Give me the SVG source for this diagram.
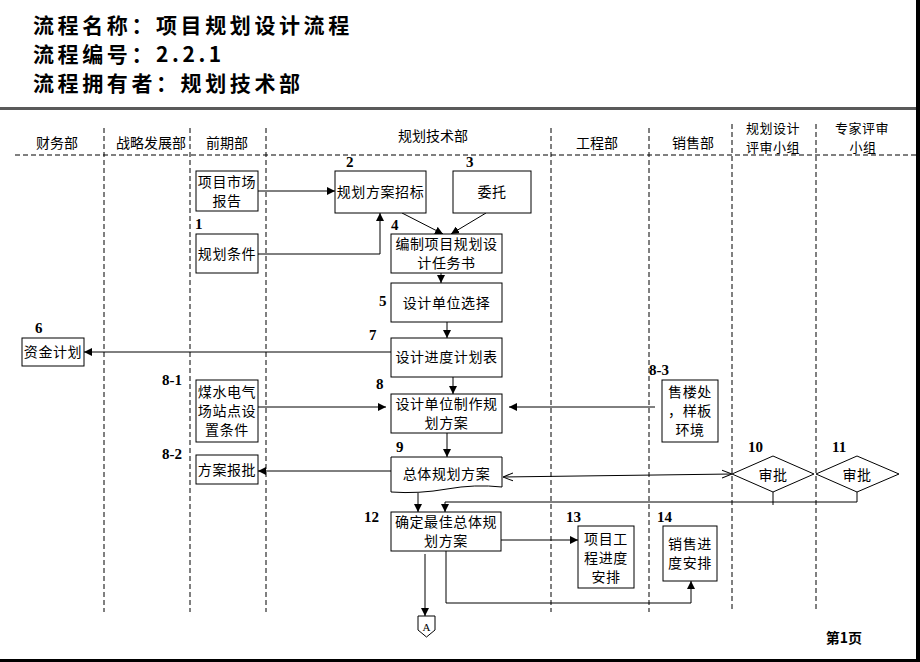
<svg xmlns="http://www.w3.org/2000/svg" width="920" height="662" viewBox="0 0 920 662">
<style>
.title{font-family:"Noto Sans CJK SC","Noto Sans",sans-serif;font-size:21px;font-weight:bold;letter-spacing:3.6px;fill:#000}
.lane{font-family:"Noto Sans CJK SC",sans-serif;font-size:14px;text-anchor:middle;fill:#000}
.lane2{font-family:"Noto Sans CJK SC",sans-serif;font-size:13px;letter-spacing:0.5px;text-anchor:middle;fill:#000}
.t{font-family:"Noto Sans CJK SC",sans-serif;font-size:14px;letter-spacing:0.6px;text-anchor:middle;fill:#000}
.num{font-family:"Liberation Serif",serif;font-size:15px;font-weight:bold;fill:#000}
.box{fill:#fff;stroke:#000;stroke-width:1}
.dash{stroke:#000;stroke-width:1;stroke-dasharray:5 3;fill:none}
.ln{stroke:#000;stroke-width:1;fill:none}
</style>
<defs>
<marker id="ah" viewBox="0 0 10 10" refX="10" refY="5" markerWidth="8" markerHeight="8" markerUnits="userSpaceOnUse" orient="auto">
<path d="M0,0 L10,5 L0,10 Z" fill="#000"/>
</marker>
<marker id="oh" viewBox="0 0 10 10" refX="10" refY="5" markerWidth="10" markerHeight="10" markerUnits="userSpaceOnUse" orient="auto-start-reverse">
<path d="M0,1 L10,5 L0,9" fill="none" stroke="#000" stroke-width="1"/>
</marker>
</defs>
<rect width="920" height="662" fill="#fff"/>
<g id="header">
<text class="title" x="33" y="33">流程名称：项目规划设计流程</text>
<text class="title" x="33" y="62">流程编号：2.2.1</text>
<text class="title" x="33" y="91">流程拥有者：规划技术部</text>
<rect x="0" y="107" width="916" height="3" fill="#5a5a5a"/>
<rect x="916" y="0" width="4" height="662" fill="#000"/>
<rect x="0" y="659" width="920" height="3" fill="#000"/>
<text x="844" y="643" style="font-family:'Noto Sans CJK SC',sans-serif;font-size:14px;font-weight:bold;text-anchor:middle">第1页</text>
</g>
<g id="lanes">
<line class="dash" x1="15" y1="155" x2="916" y2="155" stroke="#444"/>
<line class="dash" x1="104" y1="128" x2="104" y2="612"/>
<line class="dash" x1="190" y1="128" x2="190" y2="612"/>
<line class="dash" x1="266" y1="128" x2="266" y2="612"/>
<line class="dash" x1="551" y1="128" x2="551" y2="612"/>
<line class="dash" x1="649" y1="128" x2="649" y2="612"/>
<line class="dash" x1="732" y1="124" x2="732" y2="612"/>
<line class="dash" x1="816" y1="124" x2="816" y2="612"/>
<text class="lane" x="57" y="148">财务部</text>
<text class="lane" x="151" y="148">战略发展部</text>
<text class="lane" x="227" y="148">前期部</text>
<text class="lane" x="433" y="141">规划技术部</text>
<text class="lane" x="597" y="148">工程部</text>
<text class="lane" x="693" y="148">销售部</text>
<text class="lane2" x="773" y="133">规划设计</text>
<text class="lane2" x="773" y="152">评审小组</text>
<text class="lane2" x="862" y="133">专家评审</text>
<text class="lane2" x="863" y="152">小组</text>
</g>
<g id="connectors">
<line class="ln" x1="258" y1="191" x2="335" y2="191" marker-end="url(#ah)"/>
<polyline class="ln" points="258,254 380,254 380,213" marker-end="url(#ah)"/>
<line class="ln" x1="402" y1="213" x2="443" y2="234" marker-end="url(#ah)"/>
<line class="ln" x1="486" y1="213" x2="451" y2="234" marker-end="url(#ah)"/>
<line class="ln" x1="441" y1="273" x2="441" y2="283" marker-end="url(#ah)"/>
<line class="ln" x1="447" y1="322" x2="447" y2="338" marker-end="url(#ah)"/>
<line class="ln" x1="391" y1="352" x2="84" y2="352" marker-end="url(#ah)"/>
<line class="ln" x1="453" y1="377" x2="453" y2="394" marker-end="url(#ah)"/>
<line class="ln" x1="258" y1="407" x2="386" y2="407" marker-end="url(#ah)"/>
<line class="ln" x1="655" y1="407" x2="509" y2="407" marker-end="url(#ah)"/>
<line class="ln" x1="447" y1="433" x2="447" y2="457" marker-end="url(#ah)"/>
<line class="ln" x1="391" y1="471" x2="258" y2="471" marker-end="url(#ah)"/>
<line class="ln" x1="503" y1="477" x2="732" y2="474" marker-start="url(#oh)" marker-end="url(#oh)"/>
<line class="ln" x1="773" y1="492" x2="773" y2="505"/>
<polyline class="ln" points="857,492 857,502 445,502 445,512" marker-end="url(#ah)"/>
<line class="ln" x1="418" y1="493" x2="418" y2="512" marker-end="url(#ah)"/>
<line class="ln" x1="501" y1="540" x2="578" y2="540" marker-end="url(#ah)"/>
<line class="ln" x1="425" y1="554" x2="425" y2="616" marker-end="url(#ah)"/>
<polyline class="ln" points="446,551 446,603 691,603 691,581" marker-end="url(#ah)"/>
</g>
<g id="n_market">
<rect class="box" x="196" y="171" width="62" height="40"/>
<text class="t" x="227" y="187">项目市场</text>
<text class="t" x="227" y="206">报告</text>
</g>
<g id="n1">
<text class="num" x="195" y="229">1</text>
<rect class="box" x="196" y="234" width="62" height="39"/>
<text class="t" x="227" y="259">规划条件</text>
</g>
<g id="n2">
<text class="num" x="346" y="167">2</text>
<rect class="box" x="335" y="171" width="91" height="42"/>
<text class="t" x="380.5" y="197">规划方案招标</text>
</g>
<g id="n3">
<text class="num" x="466" y="167">3</text>
<rect class="box" x="453" y="171" width="78" height="42"/>
<text class="t" x="492" y="197">委托</text>
</g>
<g id="n4">
<text class="num" x="391" y="230">4</text>
<rect class="box" x="391" y="234" width="111" height="39"/>
<text class="t" x="446.5" y="249">编制项目规划设</text>
<text class="t" x="446.5" y="268">计任务书</text>
</g>
<g id="n5">
<text class="num" x="379" y="306">5</text>
<rect class="box" x="391" y="283" width="111" height="39"/>
<text class="t" x="446.5" y="308">设计单位选择</text>
</g>
<g id="n6">
<text class="num" x="35" y="333">6</text>
<rect class="box" x="22" y="338" width="62" height="28"/>
<text class="t" x="53" y="357">资金计划</text>
</g>
<g id="n7">
<text class="num" x="369" y="340">7</text>
<rect class="box" x="391" y="338" width="111" height="39"/>
<text class="t" x="446.5" y="362">设计进度计划表</text>
</g>
<g id="n8_1">
<text class="num" x="162" y="385">8-1</text>
<rect class="box" x="196" y="380" width="62" height="62"/>
<text class="t" x="227" y="397">煤水电气</text>
<text class="t" x="227" y="416">场站点设</text>
<text class="t" x="227" y="435">置条件</text>
</g>
<g id="n8">
<text class="num" x="376" y="389">8</text>
<rect class="box" x="391" y="394" width="111" height="39"/>
<text class="t" x="446.5" y="409">设计单位制作规</text>
<text class="t" x="446.5" y="428">划方案</text>
</g>
<g id="n8_3">
<text class="num" x="649" y="375">8-3</text>
<rect class="box" x="662" y="380" width="56" height="62"/>
<text class="t" x="690" y="397">售楼处</text>
<text class="t" x="690" y="416">，样板</text>
<text class="t" x="690" y="435">环境</text>
</g>
<g id="n8_2">
<text class="num" x="162" y="459">8-2</text>
<rect class="box" x="196" y="455" width="62" height="29"/>
<text class="t" x="227" y="475">方案报批</text>
</g>
<g id="n9">
<text class="num" x="396" y="452">9</text>
<path class="box" d="M391,457 H502 V487 Q475,484 447,489 T391,492 Z"/>
<text class="t" x="446.5" y="479">总体规划方案</text>
</g>
<g id="n10">
<text class="num" x="748" y="452">10</text>
<path class="box" d="M732,474 L773,456 L814,474 L773,492 Z"/>
<text class="t" x="773" y="480">审批</text>
</g>
<g id="n11">
<text class="num" x="832" y="452">11</text>
<path class="box" d="M816,474 L857,456 L899,474 L857,492 Z"/>
<text class="t" x="857" y="480">审批</text>
</g>
<g id="n12">
<text class="num" x="364" y="522">12</text>
<rect class="box" x="391" y="512" width="110" height="39"/>
<text class="t" x="446" y="527">确定最佳总体规</text>
<text class="t" x="446" y="546">划方案</text>
</g>
<g id="n13">
<text class="num" x="566" y="522">13</text>
<rect class="box" x="578" y="526" width="56" height="62"/>
<text class="t" x="606" y="544">项目工</text>
<text class="t" x="606" y="563">程进度</text>
<text class="t" x="606" y="582">安排</text>
</g>
<g id="n14">
<text class="num" x="657" y="522">14</text>
<rect class="box" x="663" y="526" width="54" height="55"/>
<text class="t" x="690" y="549">销售进</text>
<text class="t" x="690" y="568">度安排</text>
</g>
<g id="nA">
<path class="box" d="M418,616 H435 V630 L426.5,637 L418,630 Z"/>
<text x="426.5" y="631" style="font-family:'Liberation Serif',serif;font-size:11px;text-anchor:middle">A</text>
</g>
</svg>
